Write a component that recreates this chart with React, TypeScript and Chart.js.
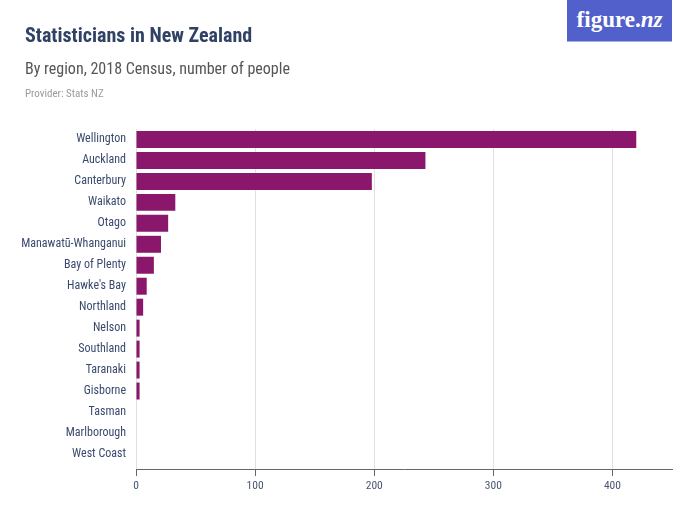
import React, { useEffect, useRef } from "react";
import { Chart, registerables } from "chart.js";

Chart.register(...registerables);

const regions = [
  "Wellington",
  "Auckland",
  "Canterbury",
  "Waikato",
  "Otago",
  "Manawatū-Whanganui",
  "Bay of Plenty",
  "Hawke's Bay",
  "Northland",
  "Nelson",
  "Southland",
  "Taranaki",
  "Gisborne",
  "Tasman",
  "Marlborough",
  "West Coast",
];
const statisticians = [420, 243, 198, 33, 27, 21, 15, 9, 6, 3, 3, 3, 3, 0, 0, 0];
const xTicks = [0, 100, 200, 300, 400];

const FONT = "'Roboto Condensed', 'Liberation Sans Narrow', sans-serif";

export default function App() {
  const ref = useRef<HTMLCanvasElement | null>(null);

  useEffect(() => {
    if (!ref.current) return;
    const chart = new Chart(ref.current, {
      type: "bar",
      data: {
        labels: regions,
        datasets: [
          {
            data: statisticians,
            backgroundColor: "#8a176c",
            borderWidth: 0,
            barPercentage: 0.81,
            categoryPercentage: 1,
          },
        ],
      },
      options: {
        indexAxis: "y",
        animation: false,
        responsive: false,
        layout: { padding: { top: 129, right: 28, left: 0, bottom: 0 } },
        plugins: { legend: { display: false }, tooltip: { enabled: false } },
        scales: {
          x: {
            min: 0,
            max: 450,
            afterBuildTicks: (s: any) => {
              s.ticks = xTicks.map((v) => ({ value: v }));
            },
            afterFit: (s: any) => {
              s.height = 56;
            },
            grid: {
              color: "#e0e0e0",
              lineWidth: 1,
              tickLength: 7,
              tickColor: "#666",
              drawTicks: true,
            },
            border: { display: true, color: "#666", width: 1 },
            ticks: {
              color: "#4a5570",
              font: { family: FONT, size: 11.5 },
              padding: 3,
            },
          },
          y: {
            afterBuildTicks: (s: any) => {
              s._valueRange = regions.length + 0.22;
            },
            afterFit: (s: any) => {
              s.width = 136;
            },
            grid: { display: false, drawTicks: false },
            border: { display: false },
            ticks: {
              color: "#3a4a6e",
              font: { family: FONT, size: 12 },
              padding: 10,
              autoSkip: false,
            },
          },
        },
      },
    });
    return () => chart.destroy();
  }, []);

  return (
    <div style={{ position: "absolute", left: 0, top: 0, width: 700, height: 525, background: "#fff", fontFamily: FONT }}>
      <canvas ref={ref} width={700} height={525} style={{ position: "absolute", left: 0, top: 0 }} />
      <div style={{ position: "absolute", left: 25, top: 22, fontSize: 20, fontWeight: "bold", color: "#2f4165", whiteSpace: "nowrap", lineHeight: "26px" }}>
        Statisticians in New Zealand
      </div>
      <div style={{ position: "absolute", left: 25, top: 58, fontSize: 16, color: "#555", whiteSpace: "nowrap", lineHeight: "22px" }}>
        By region, 2018 Census, number of people
      </div>
      <div style={{ position: "absolute", left: 25, top: 86, fontSize: 11, color: "#9a9a9a", whiteSpace: "nowrap", lineHeight: "15px" }}>
        Provider: Stats NZ
      </div>
      <div
        style={{
          position: "absolute",
          left: 567,
          top: 0,
          width: 105,
          height: 42,
          background: "#5160cb",
          borderBottom: "1px solid #a9b0e6",
          color: "#fff",
          fontFamily: "'Liberation Serif', serif",
          fontWeight: "bold",
          fontSize: 23,
          display: "flex",
          alignItems: "center",
          justifyContent: "center",
          paddingBottom: 2,
          boxSizing: "border-box",
        }}
      >
        figure.<span style={{ fontStyle: "italic" }}>nz</span>
      </div>
    </div>
  );
}
